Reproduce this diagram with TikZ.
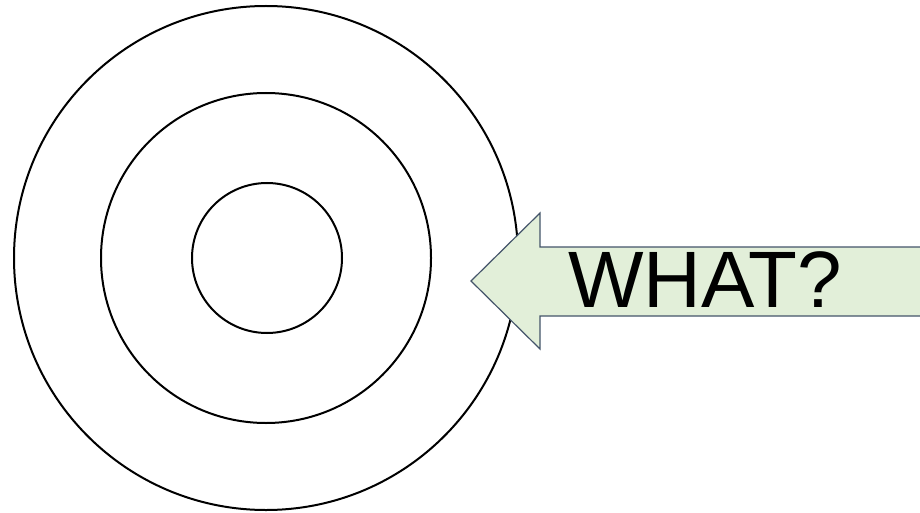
\documentclass[tikz,border=0pt]{standalone}
\usepackage{fontspec}
\setmainfont{Liberation Sans}
\definecolor{arrowfill}{HTML}{E2EFD9}
\definecolor{arrowline}{HTML}{44546A}

\begin{document}
\begin{tikzpicture}[x=1pt, y=-1pt,
  ring/.style={draw, circle, line width=2pt, inner sep=0pt}]
  \clip (0, 0) rectangle (920, 513);
  \useasboundingbox (0, 0) rectangle (920, 513);
  % target rings
  \node[ring, minimum size=504pt] (outer) at (266, 258) {};
  \node[ring, minimum size=330pt] (middle) at (266, 258) {};
  \node[ring, minimum size=150pt] (inner) at (267, 258) {};
  % arrow pointing at the target
  \draw[fill=arrowfill, draw=arrowline, line width=1.2pt]
    (471, 281) -- (540, 213) -- (540, 247) -- (930, 247)
    -- (930, 316) -- (540, 316) -- (540, 349) -- cycle;
  \node[anchor=base west, inner sep=0pt, font=\fontsize{80}{96}\selectfont] (what) at (568, 307) {WHAT?};
\end{tikzpicture}
\end{document}
